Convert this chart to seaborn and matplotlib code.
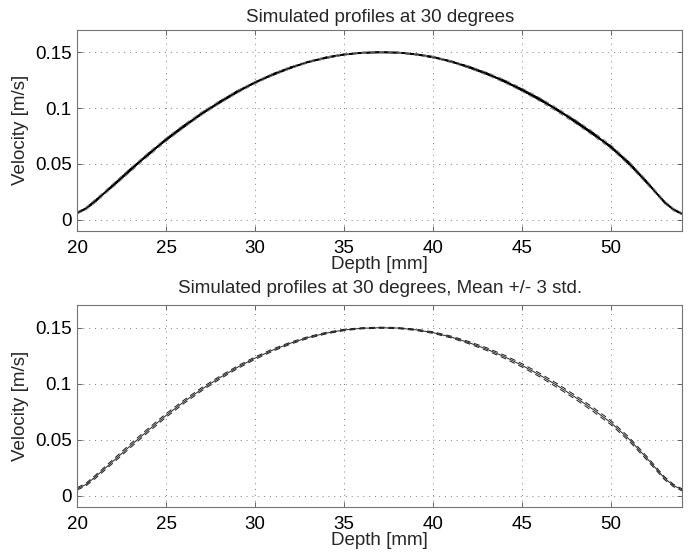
import matplotlib
matplotlib.use("Agg")
import matplotlib.pyplot as plt
import numpy as np
import pandas as pd
import seaborn as sns

# ---------------- data ----------------
depth = [20, 20.5, 21, 22, 23, 24, 25, 26, 27, 28, 29, 30, 31, 32, 33, 34, 35,
         36, 37, 38, 39, 40, 41, 42, 43, 44, 45, 46, 47, 48, 49, 50, 51, 52,
         53, 53.5, 54]

mean_velocity = [0.006, 0.010, 0.0165, 0.0305, 0.0447, 0.0585, 0.0717, 0.0839,
                 0.0951, 0.1053, 0.1146, 0.1229, 0.1301, 0.1363, 0.1414,
                 0.1452, 0.1480, 0.1495, 0.1500, 0.1497, 0.1482, 0.1456,
                 0.1417, 0.1367, 0.1309, 0.1241, 0.1163, 0.1076, 0.0980,
                 0.0877, 0.0768, 0.0650, 0.0505, 0.0335, 0.0155, 0.0090, 0.005]

# 3 x standard deviation of the simulated profiles [m/s]
three_std = [0.0010, 0.0012, 0.0014, 0.0016, 0.0017, 0.0017, 0.0016, 0.0015,
             0.0014, 0.0013, 0.0012, 0.0011, 0.0010, 0.0009, 0.0008, 0.0007,
             0.0006, 0.0005, 0.0005, 0.0005, 0.0006, 0.0007, 0.0008, 0.0010,
             0.0012, 0.0014, 0.0015, 0.0016, 0.0017, 0.0017, 0.0018, 0.0018,
             0.0017, 0.0016, 0.0013, 0.0011, 0.0009]

# deviations of individual simulated profiles from the mean [m/s]
dev_profile_1 = [0.0004, -0.0003, -0.0008, 0.0007, -0.0004, 0.0009, -0.0006,
                 0.0004, -0.0007, 0.0006, -0.0003, 0.0005, -0.0004, 0.0003,
                 -0.0002, 0.0003, -0.0002, 0.0002, -0.0001, 0.0002, -0.0003,
                 0.0004, -0.0005, 0.0006, -0.0004, 0.0007, -0.0008, 0.0006,
                 -0.0007, 0.0009, -0.0006, 0.0008, -0.0009, 0.0007, -0.0005,
                 0.0003, 0.0003]
dev_profile_2 = [-0.0005, 0.0004, 0.0007, -0.0005, 0.0008, -0.0007, 0.0005,
                 -0.0006, 0.0008, -0.0004, 0.0006, -0.0005, 0.0004, -0.0003,
                 0.0003, -0.0002, 0.0002, -0.0002, 0.0001, -0.0002, 0.0003,
                 -0.0004, 0.0005, -0.0005, 0.0006, -0.0007, 0.0006, -0.0008,
                 0.0007, -0.0006, 0.0008, -0.0009, 0.0007, -0.0008, 0.0006,
                 -0.0004, -0.0004]
dev_profile_3 = [0.0002, 0.0003, 0.0004, -0.0008, -0.0006, 0.0003, 0.0008,
                 0.0006, -0.0003, -0.0008, -0.0005, 0.0002, 0.0006, 0.0004,
                 -0.0002, -0.0004, -0.0001, 0.0002, 0.0003, 0.0001, -0.0002,
                 -0.0003, 0.0002, 0.0005, 0.0004, -0.0003, -0.0007, -0.0004,
                 0.0004, 0.0008, 0.0005, -0.0004, -0.0008, -0.0003, 0.0004,
                 0.0003, 0.0002]
dev_profile_4 = [-0.0003, -0.0004, -0.0005, 0.0004, 0.0009, 0.0005, -0.0004,
                 -0.0009, -0.0004, 0.0005, 0.0008, 0.0003, -0.0005, -0.0006,
                 0.0001, 0.0004, 0.0003, -0.0001, -0.0003, -0.0002, 0.0002,
                 0.0004, 0.0001, -0.0004, -0.0006, -0.0001, 0.0005, 0.0008,
                 0.0002, -0.0006, -0.0008, 0.0002, 0.0009, 0.0006, -0.0003,
                 -0.0002, -0.0002]

x_ticks = [20, 25, 30, 35, 40, 45, 50]
y_ticks = [0, 0.05, 0.1, 0.15]
y_tick_labels = ["0", "0.05", "0.1", "0.15"]

title_top = "Simulated profiles at 30 degrees"
title_bottom = "Simulated profiles at 30 degrees, Mean +/- 3 std."
x_label = "Depth [mm]"
y_label = "Velocity [m/s]"

# ---------------- style ----------------
sns.set_theme(style="white")
plt.rcParams["font.family"] = ["Liberation Sans", "DejaVu Sans"]
FS = 13.5

fig = plt.figure(figsize=(6.92, 5.58), dpi=100)
ax1 = fig.add_axes([0.1117, 0.5866, 0.8743, 0.3597])
ax2 = fig.add_axes([0.1117, 0.0919, 0.8743, 0.3609])

mean_arr = np.array(mean_velocity)
std_arr = np.array(three_std)

df = pd.DataFrame({"depth": depth, "mean": mean_arr,
                   "upper": mean_arr + std_arr, "lower": mean_arr - std_arr})

# top: individual simulated profiles
for dev in (dev_profile_1, dev_profile_2, dev_profile_3, dev_profile_4):
    sns.lineplot(x=depth, y=mean_arr + np.array(dev), ax=ax1, color="black",
                 lw=1.0, estimator=None, sort=False)
for col in ("upper", "lower"):
    sns.lineplot(data=df, x="depth", y=col, ax=ax1, color="0.5", lw=0.7,
                 estimator=None, sort=False)
    ax1.lines[-1].set_dashes((5, 4))

# bottom: mean +/- 3 std
sns.lineplot(data=df, x="depth", y="mean", ax=ax2, color="0.15", lw=0.7,
             estimator=None, sort=False)
for col in ("upper", "lower"):
    sns.lineplot(data=df, x="depth", y=col, ax=ax2, color="0.1", lw=0.7,
                 estimator=None, sort=False)
    ax2.lines[-1].set_dashes((6, 4))

for ax, title, tpad in ((ax1, title_top, 6), (ax2, title_bottom, 9)):
    ax.set_xlim(20, 54)
    ax.set_ylim(-0.01, 0.17)
    ax.set_xticks(x_ticks)
    ax.set_xticklabels([str(t) for t in x_ticks])
    ax.set_yticks(y_ticks)
    ax.set_yticklabels(y_tick_labels)
    ax.set_title(title, fontsize=FS, pad=tpad)
    ax.set_xlabel(x_label, fontsize=FS, labelpad=-1)
    ax.set_ylabel(y_label, fontsize=FS, labelpad=4)
    ax.grid(True, linestyle=(0, (1, 5)), color="0.5", lw=0.7)
    ax.tick_params(direction="in", length=3.5, width=0.7, colors="0.4",
                   labelcolor="black", labelsize=FS, top=True, right=True,
                   bottom=True, left=True, pad=4)
    ax.tick_params(axis="x", pad=7)
    for sp in ax.spines.values():
        sp.set_visible(True)
        sp.set_color("0.45")
        sp.set_linewidth(0.8)

fig.savefig("out.png", dpi=100)
